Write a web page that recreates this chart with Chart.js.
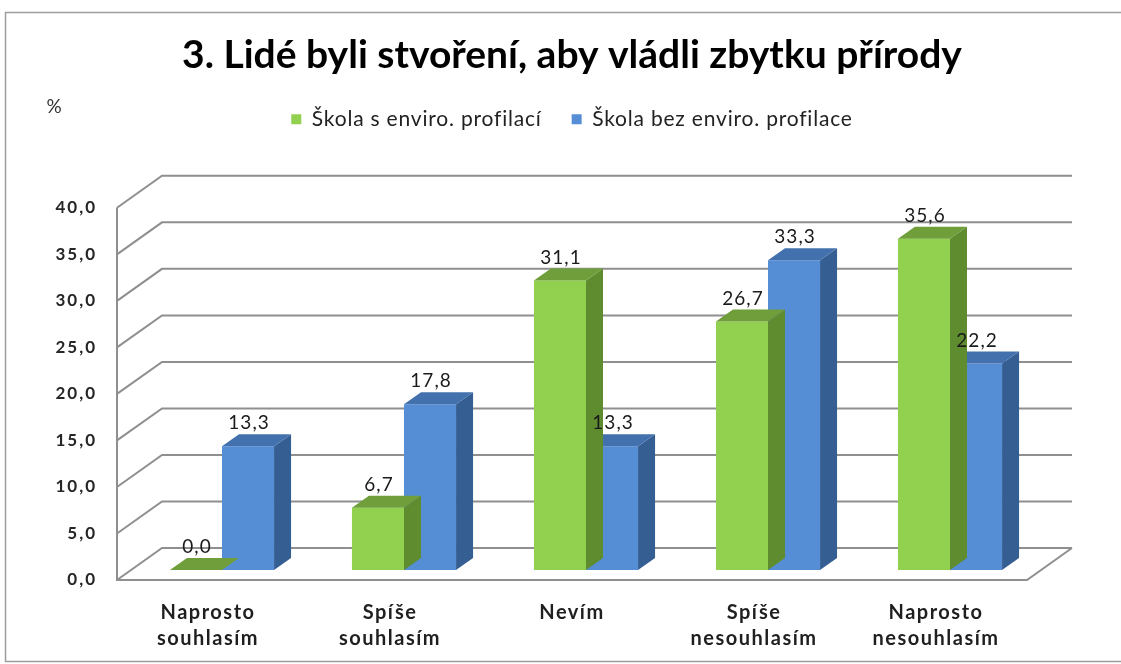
<!DOCTYPE html>
<html>
<head>
<meta charset="utf-8">
<script src="https://cdn.jsdelivr.net/npm/chart.js@4.4.1/dist/chart.umd.min.js"></script>
<style>
  html, body { margin: 0; padding: 0; background: #fff; }
</style>
</head>
<body>
<canvas id="graf" width="1121" height="664"></canvas>
<script>
// data z grafu
const kategorie = [['Naprosto', 'souhlasím'], ['Spíše', 'souhlasím'], 'Nevím', ['Spíše', 'nesouhlasím'], ['Naprosto', 'nesouhlasím']];
const skolaEnviro = [0.0, 6.7, 31.1, 26.7, 35.6];
const skolaBezEnviro = [13.3, 17.8, 13.3, 33.3, 22.2];
const nazvyRad = ['Škola s enviro. profilací', 'Škola bez enviro. profilace'];
const osaYMin = 0, osaYMax = 40, osaYKrok = 5;
const nadpis = '3. Lidé byli stvoření, aby vládli zbytku přírody';

// 3D vzhled (hloubka steny a sloupcu)
const HLOUBKA = {x: 45, y: -32};
const POSUN = {x: 14, y: -10};
const SLOUPEC = {x: 17, y: -12};
const barvy = [
    {celo: '#92d050', bok: '#5f8c2f', vrch: '#6f9e3b'},
    {celo: '#558ed5', bok: '#355f92', vrch: '#4271ad'}
];

const carka = v => Number(v).toFixed(1).replace('.', ',');

// prolozeni pismen (osy a legenda)
function obal(obj, metody, px) {
    metody.forEach(m => {
        const puvodni = obj[m];
        obj[m] = function() {
            const c = this.ctx;
            const pred = c.letterSpacing;
            c.letterSpacing = px + 'px';
            const r = puvodni.apply(this, arguments);
            c.letterSpacing = pred;
            return r;
        };
    });
}
function rozestup(px) {
    return function(scale) {
        if (scale._rozestup) return;
        obal(scale, ['drawLabels'], px);
        scale._rozestup = true;
    };
}

const ramPlugin = {
    id: 'ram',
    beforeUpdate(chart) {
        const lg = chart.legend;
        if (lg && !lg._rozestup) {
            obal(lg, ['fit', 'draw'], 0.8);
            lg._rozestup = true;
        }
    },
    beforeDraw(chart) {
        const ctx = chart.ctx;
        ctx.save();
        ctx.strokeStyle = '#9d9d9d';
        ctx.lineWidth = 1.5;
        ctx.strokeRect(5.5, 12.5, 1200, 649);
        ctx.restore();
    },
    afterDraw(chart) {
        const ctx = chart.ctx;
        ctx.save();
        ctx.font = '19px Lato';
        ctx.fillStyle = '#333';
        ctx.textAlign = 'center';
        ctx.textBaseline = 'middle';
        ctx.fillText('%', 54, 107);
        ctx.restore();
    }
};

const stenyPlugin = {
    id: 'steny',
    beforeDatasetsDraw(chart) {
        const {ctx, chartArea: a} = chart;
        const y = chart.scales.y;
        ctx.save();
        ctx.strokeStyle = '#8f8f8f';
        ctx.lineWidth = 2;
        ctx.beginPath();
        for (let v = osaYMin; v <= osaYMax; v += osaYKrok) {
            const py = y.getPixelForValue(v);
            ctx.moveTo(a.left, py);
            ctx.lineTo(a.left + HLOUBKA.x, py + HLOUBKA.y);
            ctx.lineTo(a.right + HLOUBKA.x, py + HLOUBKA.y);
        }
        ctx.moveTo(a.left, y.getPixelForValue(osaYMax));
        ctx.lineTo(a.left, a.bottom);
        ctx.lineTo(a.right, a.bottom);
        ctx.lineTo(a.right + HLOUBKA.x, a.bottom + HLOUBKA.y);
        ctx.stroke();
        ctx.restore();
    },
    beforeDatasetDraw(chart) {
        chart.ctx.save();
        chart.ctx.translate(POSUN.x, POSUN.y);
    },
    afterDatasetDraw(chart, args) {
        const ctx = chart.ctx;
        const b = barvy[args.index];
        args.meta.data.forEach(bar => {
            const p = bar.getProps(['x', 'y', 'base', 'width'], true);
            const l = p.x - p.width / 2, r = p.x + p.width / 2;
            // bok
            ctx.fillStyle = b.bok;
            ctx.beginPath();
            ctx.moveTo(r, p.y);
            ctx.lineTo(r + SLOUPEC.x, p.y + SLOUPEC.y);
            ctx.lineTo(r + SLOUPEC.x, p.base + SLOUPEC.y);
            ctx.lineTo(r, p.base);
            ctx.closePath();
            ctx.fill();
            // vrch
            ctx.fillStyle = b.vrch;
            ctx.beginPath();
            ctx.moveTo(l, p.y);
            ctx.lineTo(l + SLOUPEC.x, p.y + SLOUPEC.y);
            ctx.lineTo(r + SLOUPEC.x, p.y + SLOUPEC.y);
            ctx.lineTo(r, p.y);
            ctx.closePath();
            ctx.fill();
        });
        ctx.restore();
    },
    afterDatasetsDraw(chart) {
        const ctx = chart.ctx;
        ctx.save();
        ctx.font = '19px Lato';
        ctx.fillStyle = '#1a1a1a';
        ctx.textAlign = 'center';
        ctx.textBaseline = 'middle';
        ctx.letterSpacing = '1px';
        chart.data.datasets.forEach((ds, i) => {
            chart.getDatasetMeta(i).data.forEach((bar, j) => {
                ctx.fillText(carka(ds.data[j]), bar.x + POSUN.x + 1, bar.y + POSUN.y - 23);
            });
        });
        ctx.restore();
    }
};

Chart.defaults.font.family = 'Lato';

const ctx = document.getElementById('graf').getContext('2d');
const graf = new Chart(ctx, {
    type: 'bar',
    data: {
        labels: kategorie,
        datasets: [
            {label: nazvyRad[0], data: skolaEnviro, backgroundColor: barvy[0].celo, borderWidth: 0},
            {label: nazvyRad[1], data: skolaBezEnviro, backgroundColor: barvy[1].celo, borderWidth: 0}
        ]
    },
    options: {
        responsive: false,
        animation: false,
        categoryPercentage: 0.572,
        barPercentage: 1,
        layout: {padding: {left: 10, right: 94, top: 0, bottom: 13}},
        plugins: {
            title: {
                display: true,
                text: nadpis,
                fullSize: false,
                color: '#000',
                font: {size: 39, weight: 'bold'},
                padding: {top: 32, bottom: 0}
            },
            legend: {
                position: 'top',
                fullSize: false,
                labels: {
                    boxWidth: 10,
                    boxHeight: 10,
                    padding: 30,
                    color: '#222',
                    font: {size: 21}
                }
            },
            subtitle: {
                display: true,
                text: '',
                weight: 500,
                fullSize: false,
                font: {size: 10},
                padding: {top: 56, bottom: 0}
            },
            tooltip: {enabled: false}
        },
        scales: {
            x: {
                grid: {display: false, drawTicks: false},
                border: {display: false},
                ticks: {
                    maxRotation: 0,
                    autoSkip: false,
                    padding: 20,
                    color: '#1f1f1f',
                    font: {size: 20, weight: 'bold', lineHeight: 1.3}
                },
                afterFit: s => { s.height = 71; },
                afterUpdate: rozestup(1.5)
            },
            y: {
                min: osaYMin,
                max: osaYMax,
                grid: {display: false, drawTicks: false},
                border: {display: false},
                ticks: {
                    stepSize: osaYKrok,
                    padding: 20,
                    color: '#262626',
                    font: {size: 17, weight: 'bold'},
                    callback: v => carka(v)
                },
                afterFit: s => { s.width = 107; },
                afterUpdate: rozestup(2)
            }
        }
    },
    plugins: [ramPlugin, stenyPlugin]
});
</script>
</body>
</html>
